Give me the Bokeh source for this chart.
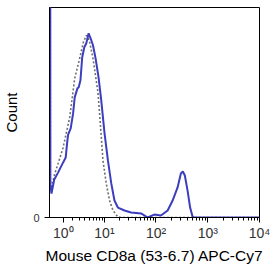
import numpy as np
from bokeh.plotting import figure
from bokeh.models import Range1d, FixedTicker
from bokeh.embed import file_html
from bokeh.resources import INLINE

# Fluorescence intensity (data units) and counts (% of max)
cd8_x = [-0.2, -0.19, -0.089, 0.151, 0.51, 0.984, 1.247, 1.397, 1.507, 1.805, 2.103,
         2.316, 2.704, 2.904, 3.183, 3.487, 3.879, 4.284, 4.79, 5.269, 5.898, 6.656,
         7.64, 8.64, 10.04, 11.7, 13.6, 15.7, 18.3, 24.6, 33.0, 51.5, 69.2, 92.7,
         124.8, 167.9, 209.5, 261.4, 302.5, 330.4, 361.1, 406.9, 456.6, 507.9, 545.0,
         10000.0]
cd8_y = [150, 18, 13.0, 20.5, 24.5, 29.9, 32.6, 40.5, 45.0, 48.4, 56.5,
         65.2, 70.1, 70.7, 74.5, 87.0, 92.4, 94.6, 100.0, 97.3, 93.5, 86.4,
         76.1, 63.6, 45.7, 31.0, 18.5, 9.2, 5.4, 3.8, 2.7, 2.2, 0.0, 1.6,
         1.1, 3.8, 9.2, 16.3, 23.9, 25.0, 22.8, 14.7, 5.4, 0.5, 0.0,
         0.0]

iso_x = [-0.2, -0.19, -0.044, 0.0, 0.204, 0.51, 0.984, 1.685, 2.316, 3.051, 3.693,
         4.284, 4.953, 5.898, 7.434, 8.258, 9.334, 10.84, 12.6, 14.7, 18.3, 21.2,
         10000.0]
iso_y = [150, 20, 14.7, 18.5, 23.9, 29.3, 38.0, 54.3, 75.5, 86.4, 95.1,
         98.9, 96.2, 86.4, 67.9, 51.6, 31.0, 18.5, 9.2, 3.8, 0.3, 0.0,
         0.0]

major_vals = [1, 10, 100, 1000, 10000]
major_labels = ["10⁰", "10¹", "10²", "10³", "10⁴"]


def logicle(v):
    # biexponential (asinh) display transform, in decades
    return np.arcsinh(np.asarray(v, dtype=float) / 2.0) / np.log(10)


p = figure(width=280, height=280, output_backend="svg", toolbar_location=None,
           x_range=Range1d(logicle(-0.266), logicle(10000)),
           y_range=Range1d(0, 114),
           min_border_left=48, min_border_right=21, min_border_top=7,
           min_border_bottom=63)
p.background_fill_color = "white"
p.border_fill_color = "white"
p.outline_line_color = "black"
p.outline_line_width = 1
p.grid.visible = False

p.line(logicle(iso_x), iso_y, line_color="#6e6e6e", line_width=1.6, line_dash="2 2")
p.line(logicle(cd8_x), cd8_y, line_color="#3d3dbf", line_width=2.0)

minor = []
for d in [1, 10, 100, 1000]:
    for k in range(2, 10):
        minor.append(float(logicle(k * d)))
p.xaxis.ticker = FixedTicker(ticks=[float(t) for t in logicle(major_vals)], minor_ticks=minor)
p.xaxis.major_label_overrides = {float(t): lab for t, lab in zip(logicle(major_vals), major_labels)}
p.xaxis.axis_label = "Mouse CD8a (53-6.7) APC-Cy7"
p.xaxis.axis_label_text_font = "Liberation Sans"
p.xaxis.axis_label_text_font_style = "normal"
p.xaxis.axis_label_text_font_size = "15.5px"
p.xaxis.axis_label_text_color = "black"
p.xaxis.axis_label_standoff = 3
p.xaxis.major_label_text_font = "Liberation Sans"
p.xaxis.major_label_text_font_size = "14px"
p.xaxis.major_label_text_color = "#333333"
p.xaxis.major_label_standoff = 2
p.xaxis.major_tick_out = 5
p.xaxis.major_tick_in = 0
p.xaxis.minor_tick_out = 3
p.xaxis.minor_tick_in = 0
p.xaxis.axis_line_color = "black"

p.yaxis.ticker = FixedTicker(ticks=[0])
p.yaxis.axis_label = "Count"
p.yaxis.axis_label_text_font = "Liberation Sans"
p.yaxis.axis_label_text_font_style = "normal"
p.yaxis.axis_label_text_font_size = "15px"
p.yaxis.axis_label_text_color = "black"
p.yaxis.axis_label_standoff = 10
p.yaxis.major_label_text_font = "Liberation Sans"
p.yaxis.major_label_text_font_size = "11px"
p.yaxis.major_label_text_color = "#333333"
p.yaxis.major_tick_out = 5
p.yaxis.major_tick_in = 0
p.yaxis.minor_tick_line_color = None
p.yaxis.axis_line_color = "black"

open("out.html", "w").write(file_html(p, INLINE))
